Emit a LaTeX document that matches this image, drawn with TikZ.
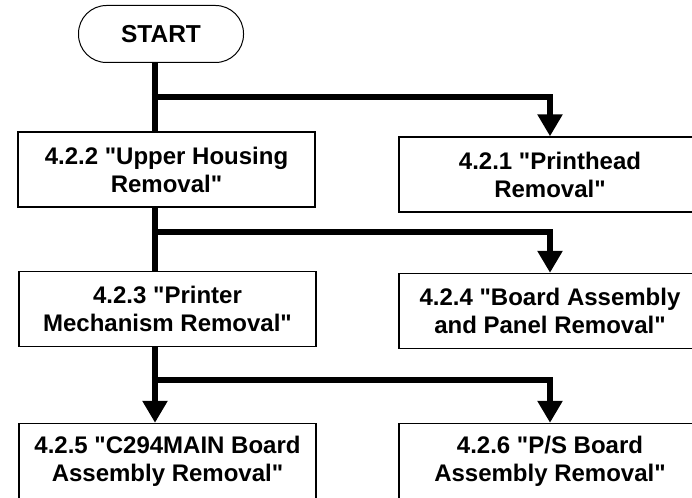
\documentclass[tikz,border=0pt]{standalone}
\usepackage{fontspec}
\setmainfont{Liberation Sans}
\usetikzlibrary{arrows.meta}
\newcommand{\qq}{\textquotedbl}

\tikzset{
  startbox/.style={draw, line width=1pt, rounded corners=28pt, minimum width=165pt, minimum height=57pt, font=\bfseries\fontsize{24.5}{28}\selectfont},
  stepbox/.style={draw, line width=1.4pt, minimum height=75pt, align=center, inner sep=0pt, font=\bfseries\fontsize{24}{28}\selectfont},
  leftbox/.style={stepbox, minimum width=297pt},
  rightbox/.style={stepbox, minimum width=302pt},
  trunk/.style={line width=6.5pt},
  branch/.style={line width=6.5pt, -{Triangle[width=24pt,length=22pt]}}
}

\begin{document}
\begin{tikzpicture}[x=1pt, y=-1pt]
\useasboundingbox (0,0) rectangle (692,497);
\clip (0,0) rectangle (692,497);
% Draw start and steps
\node[startbox] (start) at (161,34) {START};
\node[leftbox] (upper) at (166.5,169.5) {4.2.2 \qq Upper Housing\\Removal\qq};
\node[rightbox] (printhead) at (550,174.5) {4.2.1 \qq Printhead\\Removal\qq};
\node[leftbox] (mechanism) at (167.5,309) {4.2.3 \qq Printer\\Mechanism Removal\qq};
\node[rightbox] (panel) at (550,311) {4.2.4 \qq Board Assembly\\and Panel Removal\qq};
\node[leftbox] (mainboard) at (167.5,461) {4.2.5 \qq C294MAIN Board\\Assembly Removal\qq};
\node[rightbox] (psboard) at (550,461) {4.2.6 \qq P/S Board\\Assembly Removal\qq};
% Draw branch points on the trunk
\coordinate (fork1) at (155,97);
\coordinate (fork2) at (155,232);
\coordinate (fork3) at (155,380);
% Draw trunk
\draw[trunk] (start.south -| fork1) -- (upper.north -| fork1);
\draw[trunk] (upper.south -| fork2) -- (mechanism.north -| fork2);
\draw[branch] (mechanism.south -| fork3) -- (mainboard.north -| fork3);
% Draw branches
\draw[branch] ([xshift=-3.25pt]fork1) -| (printhead.north);
\draw[branch] ([xshift=-3.25pt]fork2) -| (panel.north);
\draw[branch] ([xshift=-3.25pt]fork3) -| (psboard.north);
\end{tikzpicture}
\end{document}
